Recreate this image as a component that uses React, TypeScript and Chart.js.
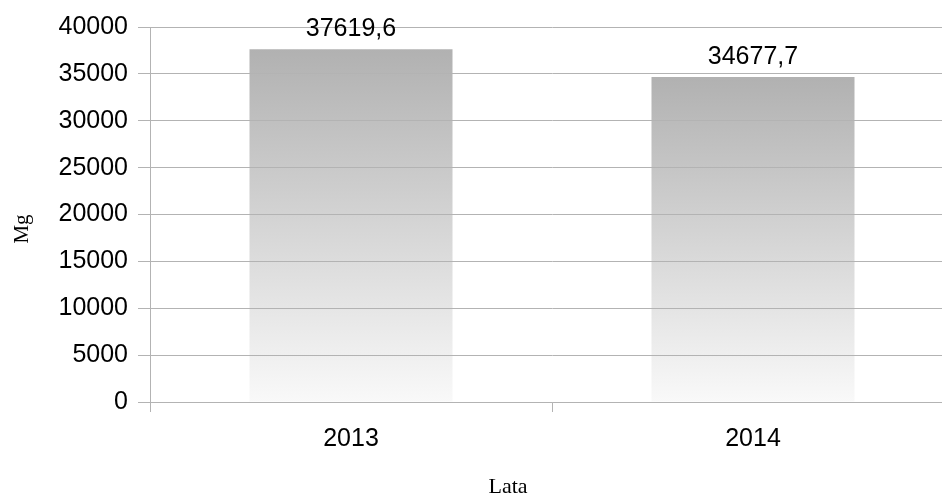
import React, { useEffect, useRef } from "react";
import { Chart, registerables } from "chart.js";

Chart.register(...registerables);

const categories: string[] = ["2013", "2014"];
const values: number[] = [37619.6, 34677.7];
const yMax = 40000;
const yStep = 5000;
const yTitle = "Mg";
const xTitle = "Lata";

const fmt = (v: number) => v.toFixed(1).replace(".", ",");

const labelsPlugin = {
  id: "barLabels",
  afterDraw(chart: any) {
    const ctx = chart.ctx;
    const meta = chart.getDatasetMeta(0);
    ctx.save();
    ctx.font = "25px 'Liberation Sans', Arial, sans-serif";
    ctx.fillStyle = "#000";
    ctx.textAlign = "center";
    ctx.textBaseline = "alphabetic";
    meta.data.forEach((bar: any, i: number) => {
      ctx.fillText(fmt(values[i]), bar.x, bar.y - 13);
    });
    ctx.restore();

    ctx.save();
    ctx.fillStyle = "#000";
    ctx.font = "22px 'Liberation Serif', 'Times New Roman', serif";
    ctx.textAlign = "center";
    ctx.textBaseline = "alphabetic";
    ctx.fillText(xTitle, 508, 493);
    ctx.translate(22, 229);
    ctx.rotate(-Math.PI / 2);
    ctx.textBaseline = "middle";
    ctx.font = "21px 'Liberation Serif', 'Times New Roman', serif";
    ctx.fillText(yTitle, 0, 0);
    ctx.restore();
  },
};

export default function App() {
  const ref = useRef<HTMLCanvasElement | null>(null);
  useEffect(() => {
    if (!ref.current) return;
    const chart = new Chart(ref.current, {
      type: "bar",
      data: {
        labels: categories,
        datasets: [
          {
            data: values,
            backgroundColor: (c: any) => {
              const ch = c.chart;
              const y = ch.scales?.y;
              const v = c.parsed?.y ?? c.raw;
              if (!y || !ch.chartArea || typeof v !== "number") return "#cccccc";
              const top = y.getPixelForValue(v);
              const base = y.getPixelForValue(0);
              if (!Number.isFinite(top) || !Number.isFinite(base) || top === base) return "#cccccc";
              const g = ch.ctx.createLinearGradient(0, top, 0, base);
              g.addColorStop(0, "#b1b1b1");
              g.addColorStop(1, "#f9f9f9");
              return g;
            },
            borderWidth: 0,
            categoryPercentage: 1,
            barPercentage: 0.505,
          },
        ],
      },
      options: {
        responsive: false,
        animation: false,
        layout: { padding: { top: 27, right: 6, left: 0, bottom: 0 } },
        plugins: {
          legend: { display: false },
          tooltip: { enabled: false },
          title: { display: false },
        },
        scales: {
          x: {
            grid: {
              display: true,
              drawOnChartArea: false,
              drawTicks: true,
              tickLength: 10,
              color: "#b3b3b3",
              offset: true,
              z: 1,
            },
            border: { display: true, color: "#b3b3b3", z: 2 },
            ticks: {
              color: "#000",
              font: { family: "'Liberation Sans', Arial, sans-serif", size: 25 },
              padding: 12,
            },
            afterFit: (s: any) => {
              s.height = 94;
            },
          },
          y: {
            min: 0,
            max: yMax,
            grid: {
              color: "#b3b3b3",
              tickLength: 12,
              z: 1,
            },
            border: { display: true, color: "#b3b3b3", z: 2 },
            ticks: {
              stepSize: yStep,
              color: "#000",
              padding: 10,
              font: { family: "'Liberation Sans', Arial, sans-serif", size: 25 },
              callback: (v: any) => String(v),
            },
            afterFit: (s: any) => {
              s.width = 150;
            },
          },
        },
      },
      plugins: [labelsPlugin],
    });
    return () => chart.destroy();
  }, []);
  return (
    <div
      style={{
        position: "fixed",
        left: 0,
        top: 0,
        width: 942,
        height: 496,
        overflow: "hidden",
        background: "#fff",
      }}
    >
      <canvas ref={ref} width={960} height={496} style={{ width: 960, height: 496, display: "block" }} />
    </div>
  );
}
